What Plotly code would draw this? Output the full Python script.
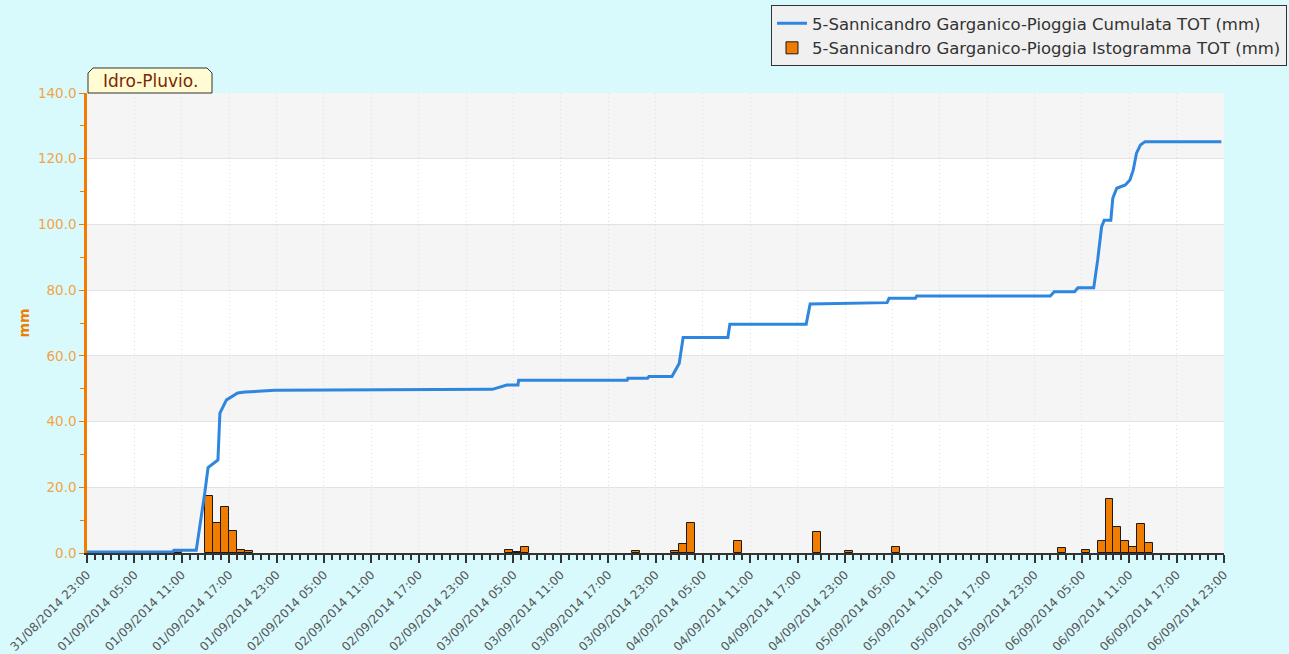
import plotly.graph_objects as go

# ---- data ----
cum_times = [
    "2014-08-31 23:00", "2014-09-01 09:50", "2014-09-01 10:00", "2014-09-01 12:50",
    "2014-09-01 13:55", "2014-09-01 14:20", "2014-09-01 15:35", "2014-09-01 15:50",
    "2014-09-01 16:40", "2014-09-01 18:05", "2014-09-01 19:00", "2014-09-01 22:50",
    "2014-09-03 02:20", "2014-09-03 03:20", "2014-09-03 04:10", "2014-09-03 05:35",
    "2014-09-03 05:40", "2014-09-03 19:25", "2014-09-03 19:30", "2014-09-03 22:00",
    "2014-09-03 22:10", "2014-09-04 01:05", "2014-09-04 01:35", "2014-09-04 02:00",
    "2014-09-04 02:30", "2014-09-04 08:10", "2014-09-04 08:25", "2014-09-04 18:05",
    "2014-09-04 18:35", "2014-09-04 23:00", "2014-09-05 04:20", "2014-09-05 04:35",
    "2014-09-05 07:55", "2014-09-05 08:05", "2014-09-06 01:00", "2014-09-06 01:30",
    "2014-09-06 04:05", "2014-09-06 04:30", "2014-09-06 06:30", "2014-09-06 07:00",
    "2014-09-06 07:30", "2014-09-06 07:50", "2014-09-06 08:40", "2014-09-06 08:55",
    "2014-09-06 09:25", "2014-09-06 10:30", "2014-09-06 11:05", "2014-09-06 11:30",
    "2014-09-06 11:55", "2014-09-06 12:25", "2014-09-06 13:00", "2014-09-06 22:40",
]
cum_values = [
    0.3, 0.3, 0.8, 0.8,
    18.3, 26.0, 28.3, 42.6,
    46.6, 48.7, 49.0, 49.5,
    49.8, 50.6, 51.1, 51.1,
    52.6, 52.6, 53.2, 53.2,
    53.7, 53.7, 55.7, 57.7,
    65.6, 65.6, 69.6, 69.6,
    75.8, 76.0, 76.2, 77.5,
    77.5, 78.2, 78.2, 79.5,
    79.5, 80.7, 80.7, 89.2,
    99.3, 101.3, 101.3, 108.0,
    111.0, 112.0, 113.5, 116.5,
    121.7, 124.2, 125.2, 125.2,
]

bar_times = [
    "2014-09-01 10:00", "2014-09-01 14:00", "2014-09-01 15:00", "2014-09-01 16:00",
    "2014-09-01 17:00", "2014-09-01 18:00", "2014-09-01 19:00",
    "2014-09-03 04:00", "2014-09-03 05:00", "2014-09-03 06:00", "2014-09-03 20:00",
    "2014-09-04 01:00", "2014-09-04 02:00", "2014-09-04 03:00", "2014-09-04 09:00",
    "2014-09-04 19:00", "2014-09-04 23:00", "2014-09-05 05:00",
    "2014-09-06 02:00", "2014-09-06 05:00", "2014-09-06 07:00", "2014-09-06 08:00",
    "2014-09-06 09:00", "2014-09-06 10:00", "2014-09-06 11:00", "2014-09-06 12:00",
    "2014-09-06 13:00",
]
bar_values = [
    0.6, 17.3, 9.0, 14.1,
    6.7, 1.0, 0.5,
    0.9, 0.3, 1.9, 0.5,
    0.5, 2.8, 9.2, 3.7,
    6.4, 0.5, 1.9,
    1.4, 0.9, 3.7, 16.3,
    7.8, 3.7, 1.7, 8.7,
    3.1,
]

series_names = [
    "5-Sannicandro Garganico-Pioggia Cumulata TOT (mm)",
    "5-Sannicandro Garganico-Pioggia Istogramma TOT (mm)",
]
x_range = ["2014-08-31 23:00", "2014-09-06 23:00"]
y_bands = [0, 20, 40, 60, 80, 100, 120, 140]

FONT = "DejaVu Sans"
ORANGE = "#f07c00"
ORANGE_TXT = "#f2a444"
BLUE = "#2e86de"
HOUR = 3600000

fig = go.Figure()

fig.add_trace(go.Scatter(
    x=cum_times, y=cum_values, mode="lines", name=series_names[0],
    line=dict(color=BLUE, width=3),
))
fig.add_trace(go.Bar(
    x=bar_times, y=bar_values, name=series_names[1],
    width=[HOUR] * len(bar_times), offset=0,
    marker=dict(color=ORANGE, line=dict(color="#1a1a1a", width=1)),
))

# alternating bands
for i in range(0, len(y_bands) - 1, 2):
    fig.add_shape(type="rect", xref="paper", yref="y", x0=0, x1=1,
                  y0=y_bands[i], y1=y_bands[i + 1],
                  fillcolor="#f5f5f5", line_width=0, layer="below")

# "Idro-Pluvio." tab
W, H = 1137.0, 460.0
def px(xp, yp):
    return (xp - 87) / W, (553 - yp) / H
pts = [px(88, 93), px(88, 73), px(93, 68), px(207, 68), px(212, 73), px(212, 93)]
path = "M " + " L ".join(f"{a:.5f},{b:.5f}" for a, b in pts) + " Z"
fig.add_shape(type="path", xref="paper", yref="paper", path=path,
              fillcolor="#fffbd2", line=dict(color="#333333", width=1))
cx, cy = px(150, 81)
fig.add_annotation(x=cx, y=cy, xref="paper", yref="paper", text="Idro-Pluvio.",
                   xanchor="center", yanchor="middle",
                   showarrow=False, font=dict(family=FONT, size=17, color="#7a2800"))

fig.update_layout(
    width=1289, height=654,
    margin=dict(l=87, r=65, t=93, b=101, autoexpand=False),
    paper_bgcolor="#d9fafd", plot_bgcolor="#ffffff",
    font=dict(family=FONT, color="#444444"),
    bargap=0,
    showlegend=True,
    legend=dict(
        x=1.0554, y=1.191, xanchor="right", yanchor="top",
        bgcolor="#f0f0f0", bordercolor="#333333", borderwidth=1,
        font=dict(family=FONT, size=16.5, color="#333333"),
        tracegroupgap=0, itemwidth=30,
    ),
    xaxis=dict(
        type="date", range=x_range, automargin=False,
        tick0="2014-08-31 23:00", dtick=6 * HOUR,
        tickformat="%d/%m/%Y %H:%M", tickangle=-45,
        tickfont=dict(family=FONT, size=12, color="#555555"),
        ticks="outside", ticklen=8, tickcolor="#333333", tickwidth=1.5,
        showline=True, linecolor="#333333", linewidth=2,
        showgrid=True, gridcolor="#dedede", griddash="1px,3px", gridwidth=1,
        minor=dict(dtick=HOUR, tick0="2014-08-31 23:00", ticks="outside",
                   ticklen=5, tickcolor="#333333", showgrid=False),
        zeroline=False, layer="above traces",
    ),
    yaxis=dict(
        range=[0, 140], dtick=20, tickformat=".1f", automargin=False,
        tickfont=dict(family=FONT, size=13.5, color=ORANGE_TXT),
        ticks="outside", ticklen=5, tickcolor=ORANGE,
        showline=True, linecolor=ORANGE, linewidth=2.5,
        showgrid=True, gridcolor="#e2e2e2", gridwidth=1,
        minor=dict(dtick=10, ticks="outside", ticklen=4, tickcolor=ORANGE, showgrid=False),
        zeroline=False,
        title=dict(text="<b>mm</b>", font=dict(family=FONT, size=14, color=ORANGE), standoff=5),
    ),
)

fig.write_html("out.html", config={"displayModeBar": False},
               post_script="document.body.style.margin='0';document.body.style.overflow='hidden';")
